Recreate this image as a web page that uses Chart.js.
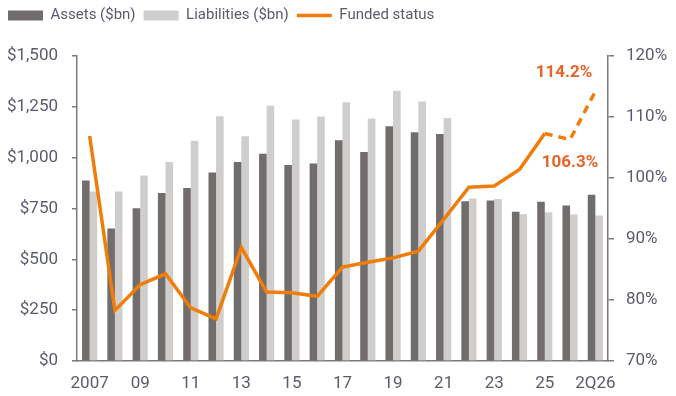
<!DOCTYPE html>
<html lang="en">
	<head>
		<meta charset="UTF-8">
		<script src="https://cdn.jsdelivr.net/npm/chart.js"></script>
		<style>
			* { margin: 0; padding: 0; }
			body { background: #fff; }
			#wrap { width: 676px; height: 396px; }
		</style>
	</head>
	<body>
		<div id="wrap">
			<canvas id="myChart" width="676" height="396"></canvas>
		</div>
		<script>
			const years = ['2007', '08', '09', '10', '11', '12', '13', '14', '15', '16', '17',
				'18', '19', '20', '21', '22', '23', '24', '25', '1Q26', '2Q26'];
			const assets = [888, 652, 751, 826, 851, 927, 979, 1019, 964, 971, 1086,
				1028, 1154, 1125, 1117, 786, 789, 734, 783, 765, 818];
			const liabilities = [833, 833, 912, 979, 1083, 1204, 1105, 1255, 1188, 1203, 1273,
				1193, 1329, 1276, 1195, 799, 797, 722, 732, 721, 716];
			const funded = [106.9, 78.3, 82.5, 84.3, 78.7, 76.9, 88.6, 81.3, 81.2, 80.6, 85.4,
				86.2, 86.9, 88.0, 93.2, 98.5, 98.7, 101.4, 107.3, 106.3, 114.2];
			const projFrom = 18; // dashed after 2025
			const callouts = ['', '', '', '', '', '', '', '', '', '', '',
				'', '', '', '', '', '', '', '', '106.3%', '114.2%'];

			const FONT = "'Liberation Sans Narrow', 'Roboto', sans-serif";
			const textColor = '#5a5b6c';
			const axisColor = '#7a7a7a';
			const orange = '#f07c0a';

			// value labels for the last two funded status points
			const calloutPlugin = {
				id: 'callouts',
				beforeInit(chart) {
					// leave room between legend and plot
					const lg = chart.legend;
					if (lg) {
						const fit = lg.fit;
						lg.fit = function () {
							fit.call(this);
							this.height += 23;
						};
					}
				},
				afterDatasetsDraw(chart) {
					const ctx = chart.ctx;
					const meta = chart.getDatasetMeta(0);
					ctx.save();
					ctx.font = 'bold 17px ' + FONT;
					ctx.fillStyle = '#e4652a';
					ctx.textBaseline = 'middle';
					callouts.forEach((t, i) => {
						if (!t) return;
						const p = meta.data[i];
						if (i === callouts.length - 1) {
							ctx.textAlign = 'right';
							ctx.fillText(t, p.x - 3, p.y - 19);
						} else {
							ctx.textAlign = 'center';
							ctx.fillText(t, p.x, p.y + 23);
						}
					});
					ctx.restore();
				}
			};

			const config = {
				data: {
					labels: years,
					datasets: [{
							type: 'line',
							label: 'Funded status',
							data: funded,
							yAxisID: 'y1',
							borderColor: orange,
							backgroundColor: orange,
							borderWidth: 3.5,
							pointRadius: 0,
							tension: 0,
							order: 0,
							segment: {
								borderDash: (c) => c.p0DataIndex >= projFrom ? [8, 6] : undefined
							}
						},
						{
							type: 'bar',
							label: 'Assets ($bn)',
							data: assets,
							backgroundColor: '#716d6c',
							yAxisID: 'y',
							order: 1,
							barPercentage: 1,
							categoryPercentage: 0.6
						},
						{
							type: 'bar',
							label: 'Liabilities ($bn)',
							data: liabilities,
							backgroundColor: '#cfcecd',
							yAxisID: 'y',
							order: 1,
							barPercentage: 1,
							categoryPercentage: 0.6
						}
					]
				},
				plugins: [calloutPlugin],
				options: {
					responsive: false,
					animation: false,
					plugins: {
						legend: {
							position: 'top',
							align: 'start',
							labels: {
								font: { family: FONT, size: 15 },
								color: textColor,
								usePointStyle: true,
								pointStyleWidth: 35,
								boxHeight: 10,
								padding: 8,
								sort: (a, b) => {
									const order = ['Assets ($bn)', 'Liabilities ($bn)', 'Funded status'];
									return order.indexOf(a.text) - order.indexOf(b.text);
								},
								generateLabels(chart) {
									return chart.data.datasets.map((ds, i) => ({
										text: ds.label,
										datasetIndex: i,
										fillStyle: ds.backgroundColor,
										strokeStyle: ds.type === 'line' ? ds.borderColor : ds.backgroundColor,
										lineWidth: ds.type === 'line' ? 3.5 : 0,
										pointStyle: ds.type === 'line' ? 'line' : 'rect',
										fontColor: textColor
									}));
								}
							}
						},
						tooltip: { enabled: false }
					},
					scales: {
						x: {
							grid: { display: false },
							border: { display: true, color: axisColor, width: 1.5 },
							ticks: {
								color: textColor,
								font: { family: FONT, size: 17 },
								maxRotation: 0,
								autoSkip: false,
								padding: 5,
								callback: function (v, i) {
									return i % 2 === 0 ? years[i] : '';
								}
							},
							afterFit: (a) => { a.height = 35; }
						},
						y: {
							position: 'left',
							min: 0,
							max: 1500,
							grid: { drawOnChartArea: false, drawTicks: true, tickLength: 5, color: axisColor, lineWidth: 1.5 },
							border: { display: true, color: axisColor, width: 1.5 },
							ticks: {
								stepSize: 250,
								color: textColor,
								font: { family: FONT, size: 17 },
								padding: 14,
								callback: (v) => '$' + v.toLocaleString('en-US')
							},
							afterFit: (a) => { a.width = 77; }
						},
						y1: {
							position: 'right',
							min: 70,
							max: 120,
							grid: { drawOnChartArea: false, drawTicks: true, tickLength: 6, color: axisColor, lineWidth: 1.5 },
							border: { display: true, color: axisColor, width: 1.5 },
							ticks: {
								stepSize: 10,
								color: textColor,
								font: { family: FONT, size: 17 },
								padding: 12,
								callback: (v) => v + '%'
							},
							afterFit: (a) => { a.width = 68; }
						}
					}
				}
			};

			const myChart = new Chart(document.getElementById('myChart'), config);
		</script>
	</body>
</html>
